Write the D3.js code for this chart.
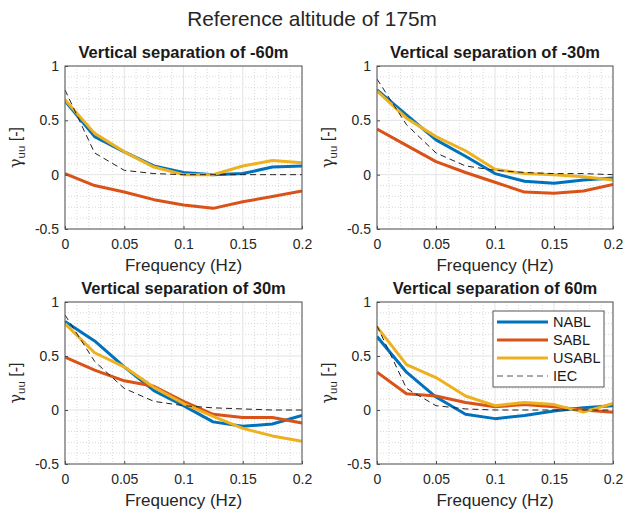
<!DOCTYPE html>
<html>
<head>
<meta charset="utf-8">
<script src="https://cdn.jsdelivr.net/npm/d3@7"></script>
<style>
  body { margin: 0; background: #fff; }
  svg { display: block; font-family: "Liberation Sans", Arial, sans-serif; }
</style>
</head>
<body>
<svg id="chart" width="625" height="513"></svg>
<script>
// ---------- data ----------
const frequency = [0, 0.025, 0.05, 0.075, 0.1, 0.125, 0.15, 0.175, 0.2];
const panelTitles = ["Vertical separation of -60m", "Vertical separation of -30m",
                     "Vertical separation of 30m", "Vertical separation of 60m"];
const seriesNames = ["NABL", "SABL", "USABL", "IEC"];
const xTicks = [0, 0.05, 0.1, 0.15, 0.2];
const xTickLabels = ["0", "0.05", "0.1", "0.15", "0.2"];
const yTicks = [-0.5, 0, 0.5, 1];
const yTickLabels = ["-0.5", "0", "0.5", "1"];

// panel -60m
const nabl_m60  = [0.68, 0.35, 0.21, 0.08, 0.02, 0.00, 0.01, 0.07, 0.08];
const sabl_m60  = [0.01, -0.10, -0.16, -0.23, -0.28, -0.31, -0.25, -0.20, -0.15];
const usabl_m60 = [0.69, 0.38, 0.21, 0.07, 0.00, 0.00, 0.08, 0.13, 0.11];
const iec_m60   = [0.78, 0.20, 0.04, 0.01, 0.00, 0.00, 0.00, 0.00, 0.00];
// panel -30m
const nabl_m30  = [0.78, 0.55, 0.32, 0.17, 0.01, -0.06, -0.08, -0.05, -0.03];
const sabl_m30  = [0.42, 0.27, 0.12, 0.02, -0.07, -0.16, -0.17, -0.15, -0.09];
const usabl_m30 = [0.77, 0.52, 0.35, 0.22, 0.05, 0.01, 0.00, -0.02, -0.05];
const iec_m30   = [0.88, 0.46, 0.20, 0.08, 0.04, 0.02, 0.01, 0.01, 0.00];
// panel 30m
const nabl_p30  = [0.82, 0.64, 0.40, 0.18, 0.04, -0.11, -0.15, -0.13, -0.05];
const sabl_p30  = [0.49, 0.37, 0.27, 0.22, 0.08, -0.04, -0.07, -0.07, -0.12];
const usabl_p30 = [0.80, 0.53, 0.40, 0.21, 0.06, -0.06, -0.17, -0.24, -0.29];
const iec_p30   = [0.88, 0.45, 0.20, 0.08, 0.04, 0.02, 0.01, 0.00, 0.00];
// panel 60m
const nabl_p60  = [0.68, 0.35, 0.12, -0.04, -0.08, -0.05, -0.01, 0.02, 0.04];
const sabl_p60  = [0.35, 0.15, 0.13, 0.07, 0.03, 0.05, 0.03, 0.00, -0.02];
const usabl_p60 = [0.77, 0.42, 0.30, 0.13, 0.04, 0.07, 0.05, -0.02, 0.06];
const iec_p60   = [0.78, 0.20, 0.04, 0.01, 0.00, 0.00, 0.00, 0.00, 0.00];

const panelData = [
  [nabl_m60, sabl_m60, usabl_m60, iec_m60],
  [nabl_m30, sabl_m30, usabl_m30, iec_m30],
  [nabl_p30, sabl_p30, usabl_p30, iec_p30],
  [nabl_p60, sabl_p60, usabl_p60, iec_p60]
];

// ---------- styles ----------
const colors = ["#0072BD", "#D95319", "#EDB120", "#222222"];
const widths = [3, 3, 3, 1];
const dashes = [null, null, null, "6,4"];

const svg = d3.select("#chart");

svg.append("text")
  .attr("x", 312).attr("y", 26)
  .attr("text-anchor", "middle")
  .attr("font-size", 20.8)
  .attr("fill", "#262626")
  .text("Reference altitude of 175m");

const boxes = [
  {x0: 65, x1: 302, y0: 66, y1: 229},
  {x0: 377, x1: 613, y0: 66, y1: 229},
  {x0: 65, x1: 302, y0: 302, y1: 464},
  {x0: 377, x1: 613, y0: 302, y1: 464}
];

boxes.forEach((b, i) => {
  const x = d3.scaleLinear().domain([0, 0.2]).range([b.x0, b.x1]);
  const y = d3.scaleLinear().domain([-0.5, 1]).range([b.y1, b.y0]);
  const g = svg.append("g");

  g.append("rect").attr("x", b.x0).attr("y", b.y0)
    .attr("width", b.x1 - b.x0).attr("height", b.y1 - b.y0).attr("fill", "#fff");

  // minor grid
  const xMinor = d3.range(0, 21).map(k => k * 0.01).filter(v => Math.round(v * 100) % 5 !== 0);
  const yMinor = d3.range(-5, 11).map(k => k * 0.1).filter(v => Math.round(v * 10) % 5 !== 0);
  g.selectAll(".xm").data(xMinor).enter().append("line")
    .attr("x1", d => x(d)).attr("x2", d => x(d))
    .attr("y1", b.y0).attr("y2", b.y1)
    .attr("stroke", "#c8c8c8").attr("stroke-width", 0.7).attr("stroke-dasharray", "1,2");
  g.selectAll(".ym").data(yMinor).enter().append("line")
    .attr("y1", d => y(d)).attr("y2", d => y(d))
    .attr("x1", b.x0).attr("x2", b.x1)
    .attr("stroke", "#c8c8c8").attr("stroke-width", 0.7).attr("stroke-dasharray", "1,2");

  // major grid
  g.selectAll(".xg").data(xTicks).enter().append("line")
    .attr("x1", d => x(d)).attr("x2", d => x(d))
    .attr("y1", b.y0).attr("y2", b.y1)
    .attr("stroke", "#e3e3e3").attr("stroke-width", 1);
  g.selectAll(".yg").data(yTicks).enter().append("line")
    .attr("y1", d => y(d)).attr("y2", d => y(d))
    .attr("x1", b.x0).attr("x2", b.x1)
    .attr("stroke", "#e3e3e3").attr("stroke-width", 1);

  const clipId = "clip" + i;
  svg.append("clipPath").attr("id", clipId).append("rect")
    .attr("x", b.x0).attr("y", b.y0).attr("width", b.x1 - b.x0).attr("height", b.y1 - b.y0);

  const line = d3.line().x((d, k) => x(frequency[k])).y(d => y(d));
  const lg = g.append("g").attr("clip-path", `url(#${clipId})`);
  panelData[i].forEach((vals, s) => {
    lg.append("path").datum(vals)
      .attr("d", line)
      .attr("fill", "none")
      .attr("stroke", colors[s])
      .attr("stroke-width", widths[s])
      .attr("stroke-linejoin", "round")
      .attr("stroke-dasharray", dashes[s]);
  });

  // axes
  const xAxis = d3.axisBottom(x).tickValues(xTicks)
    .tickFormat((d, k) => xTickLabels[k]).tickSizeInner(-3).tickSizeOuter(0).tickPadding(10);
  const yAxis = d3.axisLeft(y).tickValues(yTicks)
    .tickFormat((d, k) => yTickLabels[k]).tickSizeInner(-3).tickSizeOuter(0).tickPadding(6);
  const xa = g.append("g").attr("transform", `translate(0,${b.y1})`).call(xAxis);
  const ya = g.append("g").attr("transform", `translate(${b.x0},0)`).call(yAxis);
  [xa, ya].forEach(a => {
    a.select(".domain").remove();
    a.selectAll("line").attr("stroke", "#4d4d4d");
    a.selectAll("text").attr("font-size", 14).attr("fill", "#262626")
      .attr("font-family", "Liberation Sans, Arial, sans-serif");
  });
  g.append("rect").attr("x", b.x0).attr("y", b.y0)
    .attr("width", b.x1 - b.x0).attr("height", b.y1 - b.y0)
    .attr("fill", "none").attr("stroke", "#555").attr("stroke-width", 1);

  // titles
  g.append("text").attr("x", (b.x0 + b.x1) / 2).attr("y", b.y0 - 8)
    .attr("text-anchor", "middle").attr("font-weight", "bold")
    .attr("font-size", 16.5).attr("fill", "#1a1a1a").text(panelTitles[i]);
  g.append("text").attr("x", (b.x0 + b.x1) / 2).attr("y", b.y1 + 42)
    .attr("text-anchor", "middle").attr("font-size", 17).attr("fill", "#262626")
    .text("Frequency (Hz)");
  const yl = g.append("text")
    .attr("transform", `translate(${b.x0 - 44},${(b.y0 + b.y1) / 2}) rotate(-90)`)
    .attr("text-anchor", "middle").attr("font-size", 16).attr("fill", "#262626");
  yl.append("tspan").attr("font-family", "DejaVu Serif, serif").text("γ");
  yl.append("tspan").attr("font-size", 11.5).attr("dy", 4).text("uu");
  yl.append("tspan").attr("dy", -4).text(" [-]");
});

// legend in last panel
const lgd = svg.append("g");
lgd.append("rect").attr("x", 493).attr("y", 311).attr("width", 111).attr("height", 76)
  .attr("fill", "#fff").attr("stroke", "#555").attr("stroke-width", 1);
seriesNames.forEach((name, s) => {
  const yy = 322 + s * 18;
  lgd.append("line").attr("x1", 497).attr("x2", 548).attr("y1", yy).attr("y2", yy)
    .attr("stroke", s === 3 ? "#555" : colors[s]).attr("stroke-width", widths[s])
    .attr("stroke-dasharray", dashes[s]);
  lgd.append("text").attr("x", 553).attr("y", yy + 5).attr("font-size", 14.5)
    .attr("fill", "#1a1a1a").text(name);
});
</script>
</body>
</html>
